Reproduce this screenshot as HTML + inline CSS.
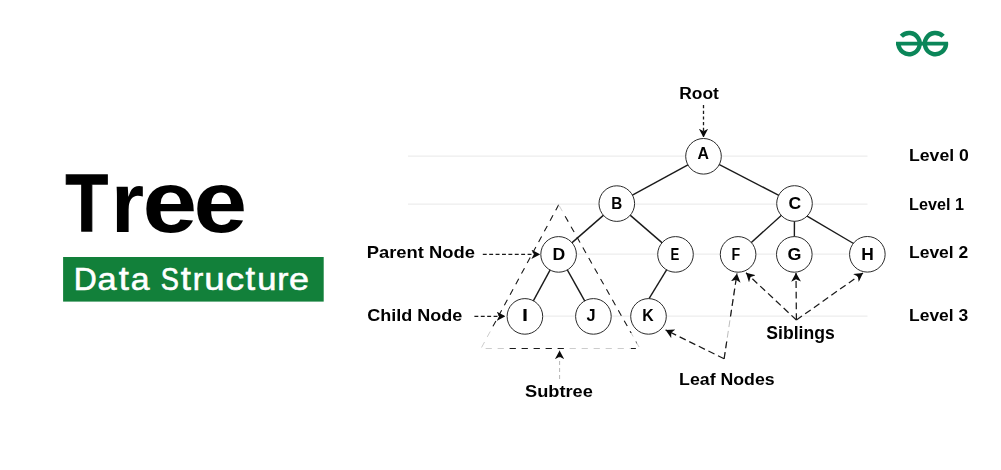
<!DOCTYPE html>
<html>
<head>
<meta charset="utf-8">
<title>Tree Data Structure</title>
<style>
  html, body { margin: 0; padding: 0; background: #ffffff; }
  body { width: 1001px; height: 470px; overflow: hidden; position: relative; font-family: "Liberation Sans", sans-serif; }
  svg { position: absolute; left: 0; top: 0; display: block; }
  text { font-family: "Liberation Sans", sans-serif; -webkit-font-smoothing: antialiased; }
  #title, #subtitle, #nodelabels, #labels { opacity: 0.999; }
  .edge { stroke: #1a1a1a; stroke-width: 1.4; fill: none; }
  .circ { stroke: #2a2a2a; stroke-width: 1; fill: #ffffff; }
  .lvl { stroke: #ededed; stroke-width: 1.2; }
  .dash { stroke: #1a1a1a; stroke-width: 1.3; fill: none; stroke-dasharray: 3.9 2.5; }
  .fine { stroke-dasharray: 3.2 2.5; }
  .tri { stroke: #1a1a1a; stroke-width: 1.05; fill: none; stroke-dasharray: 6.2 5.8; }
  .dash2 { stroke: #1a1a1a; stroke-width: 1.25; fill: none; stroke-dasharray: 6.8 3.9; }
  .dashl { stroke: #b5b5b5; stroke-width: 1; fill: none; stroke-dasharray: 4 3; }
</style>
</head>
<body>
<svg width="1001" height="470" viewBox="0 0 1001 470">
  <rect x="0" y="0" width="1001" height="470" fill="#ffffff"/>

  <!-- Title -->
  <g id="title">
    <text transform="translate(65.50 230.90) scale(0.8567 1)" font-size="81.31" font-weight="bold" fill="#000000" stroke="#000000" stroke-width="1.3">T</text>
    <text transform="translate(110.96 231.50) scale(0.9929 1)" font-size="85.77" font-weight="bold" fill="#000000">r</text>
    <text transform="translate(142.57 231.70) scale(1.1307 1)" font-size="86.88" font-weight="bold" fill="#000000">e</text>
    <text transform="translate(193.45 231.70) scale(1.1092 1)" font-size="86.88" font-weight="bold" fill="#000000">e</text>
  </g>
  <rect x="63.1" y="257.0" width="260.6" height="44.6" fill="#12803a"/>
  <g id="subtitle">
    <text transform="translate(73.77 289.70) scale(0.3190 0.3127)" font-size="100" font-weight="normal" fill="#ffffff" stroke="#ffffff" stroke-width="1.90">D</text>
    <text transform="translate(97.44 289.68) scale(0.3434 0.3215)" font-size="100" font-weight="normal" fill="#ffffff" stroke="#ffffff" stroke-width="1.80">a</text>
    <text transform="translate(118.75 289.75) scale(0.3647 0.3280)" font-size="100" font-weight="normal" fill="#ffffff" stroke="#ffffff" stroke-width="1.73">t</text>
    <text transform="translate(130.87 289.68) scale(0.3376 0.3215)" font-size="100" font-weight="normal" fill="#ffffff" stroke="#ffffff" stroke-width="1.82">a</text>
    <text transform="translate(160.78 289.69) scale(0.2713 0.3124)" font-size="100" font-weight="normal" fill="#ffffff" stroke="#ffffff" stroke-width="2.06">S</text>
    <text transform="translate(180.85 289.75) scale(0.3647 0.3280)" font-size="100" font-weight="normal" fill="#ffffff" stroke="#ffffff" stroke-width="1.73">t</text>
    <text transform="translate(192.77 289.70) scale(0.3160 0.3219)" font-size="100" font-weight="normal" fill="#ffffff" stroke="#ffffff" stroke-width="1.88">r</text>
    <text transform="translate(204.31 289.68) scale(0.3671 0.3219)" font-size="100" font-weight="normal" fill="#ffffff" stroke="#ffffff" stroke-width="1.74">u</text>
    <text transform="translate(225.62 289.68) scale(0.3721 0.3215)" font-size="100" font-weight="normal" fill="#ffffff" stroke="#ffffff" stroke-width="1.73">c</text>
    <text transform="translate(245.58 289.75) scale(0.3451 0.3280)" font-size="100" font-weight="normal" fill="#ffffff" stroke="#ffffff" stroke-width="1.78">t</text>
    <text transform="translate(257.35 289.68) scale(0.3459 0.3219)" font-size="100" font-weight="normal" fill="#ffffff" stroke="#ffffff" stroke-width="1.80">u</text>
    <text transform="translate(277.13 289.70) scale(0.3360 0.3219)" font-size="100" font-weight="normal" fill="#ffffff" stroke="#ffffff" stroke-width="1.82">r</text>
    <text transform="translate(289.07 289.68) scale(0.3596 0.3215)" font-size="100" font-weight="normal" fill="#ffffff" stroke="#ffffff" stroke-width="1.76">e</text>
  </g>

  <!-- Logo -->
  <g id="logo" fill="none" stroke="#0b8659">
    <path stroke-width="4.4" d="M 943.15 36.37 A 10.6 10.6 0 1 0 946.0 43.6"/>
    <path stroke-width="4.4" d="M 901.35 36.37 A 10.6 10.6 0 1 1 898.5 43.6"/>
    <path stroke-width="3.6" d="M 896 43.6 L 948.1 43.6"/>
  </g>

  <!-- Level lines -->
  <line class="lvl" x1="408" y1="156.2" x2="867.5" y2="156.2"/>
  <line class="lvl" x1="408" y1="204.2" x2="867.5" y2="204.2"/>
  <line class="lvl" x1="576" y1="254.2" x2="867.5" y2="254.2"/>
  <line class="lvl" x1="542" y1="316.2" x2="867.5" y2="316.2"/>

  <!-- Subtree triangle -->
  <defs>
    <clipPath id="triDark">
      <rect x="470" y="200" width="88.7" height="131"/>
      <rect x="558.7" y="213" width="95" height="120"/>
      <rect x="508" y="340" width="57" height="16"/>
      <rect x="631" y="340" width="5.5" height="16"/>
    </clipPath>
  </defs>
  <path class="tri" style="stroke:#c6c6c6;stroke-width:0.9" d="M 558.7 204.8 L 481 348.5 L 639.9 348.5 Z"/>
  <path class="tri" clip-path="url(#triDark)" d="M 558.7 204.8 L 481 348.5 L 639.9 348.5 Z"/>

  <!-- Edges -->
  <g class="edge">
    <line x1="703.5" y1="156.3" x2="616.8" y2="203.6"/>
    <line x1="703.5" y1="156.3" x2="794.5" y2="203.5"/>
    <line x1="616.8" y1="203.6" x2="558.6" y2="254.4"/>
    <line x1="616.8" y1="203.6" x2="675.5" y2="254.4"/>
    <line x1="794.5" y1="203.5" x2="738.1" y2="254.4"/>
    <line x1="794.5" y1="203.5" x2="794.3" y2="254.4"/>
    <line x1="805.4" y1="215.1" x2="854.4" y2="244.0"/>
    <line x1="558.6" y1="254.4" x2="524.9" y2="316.4"/>
    <line x1="558.6" y1="254.4" x2="593.4" y2="316.4"/>
    <line x1="667.5" y1="268.3" x2="647.5" y2="301.1"/>
  </g>
  <!-- Nodes -->
  <g class="circ">
    <circle cx="703.5" cy="156.3" r="17.8"/>
    <circle cx="616.8" cy="203.6" r="17.8"/>
    <circle cx="794.5" cy="203.5" r="17.8"/>
    <circle cx="558.6" cy="254.4" r="17.8"/>
    <circle cx="675.5" cy="254.4" r="17.8"/>
    <circle cx="738.1" cy="254.4" r="17.8"/>
    <circle cx="794.3" cy="254.4" r="17.8"/>
    <circle cx="867.35" cy="254.3" r="17.8"/>
    <circle cx="524.9" cy="316.4" r="17.8"/>
    <circle cx="593.4" cy="316.4" r="17.8"/>
    <circle cx="648.5" cy="316.4" r="17.8"/>
  </g>
  <g id="nodelabels">
    <text transform="translate(697.50 158.60) scale(0.9711 1)" font-size="16.29" font-weight="bold" fill="#000000">A</text>
    <text transform="translate(611.17 208.70) scale(0.9276 1)" font-size="16.44" font-weight="bold" fill="#000000">B</text>
    <text transform="translate(788.40 208.70) scale(1.0682 1)" font-size="16.44" font-weight="bold" fill="#000000">C</text>
    <text transform="translate(552.51 259.60) scale(1.0728 1)" font-size="16.44" font-weight="bold" fill="#000000">D</text>
    <text transform="translate(670.41 259.60) scale(0.8040 1)" font-size="16.44" font-weight="bold" fill="#000000">E</text>
    <text transform="translate(731.54 259.60) scale(0.8632 1)" font-size="16.44" font-weight="bold" fill="#000000">F</text>
    <text transform="translate(787.48 259.60) scale(1.0906 1)" font-size="16.44" font-weight="bold" fill="#000000">G</text>
    <text transform="translate(861.33 259.60) scale(1.0563 1)" font-size="16.44" font-weight="bold" fill="#000000">H</text>
    <text transform="translate(521.93 320.70) scale(1.3236 1)" font-size="16.44" font-weight="bold" fill="#000000">I</text>
    <text transform="translate(586.46 320.70) scale(0.9915 1)" font-size="16.44" font-weight="bold" fill="#000000">J</text>
    <text transform="translate(642.33 320.70) scale(0.9621 1)" font-size="16.44" font-weight="bold" fill="#000000">K</text>
  </g>
  <!-- Labels -->
  <g id="labels">
    <text transform="translate(679.22 98.90) scale(1.0419 1)" font-size="16.73" font-weight="bold" fill="#000000">Root</text>
    <text transform="translate(366.66 257.60) scale(1.0717 1)" font-size="17.16" font-weight="bold" fill="#000000">Parent Node</text>
    <text transform="translate(367.18 320.60) scale(1.0511 1)" font-size="17.16" font-weight="bold" fill="#000000">Child Node</text>
    <text transform="translate(525.05 396.90) scale(1.0529 1)" font-size="17.31" font-weight="bold" fill="#000000">Subtree</text>
    <text transform="translate(679.10 385.40) scale(1.0248 1)" font-size="17.31" font-weight="bold" fill="#000000">Leaf Nodes</text>
    <text transform="translate(766.37 339.00) scale(1.0070 1)" font-size="17.45" font-weight="bold" fill="#000000">Siblings</text>
    <text transform="translate(909.01 160.50) scale(1.0208 1)" font-size="17.31" font-weight="bold" fill="#000000">Level 0</text>
    <text transform="translate(909.11 210.00) scale(0.9345 1)" font-size="17.31" font-weight="bold" fill="#000000">Level 1</text>
    <text transform="translate(909.02 258.40) scale(1.0103 1)" font-size="17.31" font-weight="bold" fill="#000000">Level 2</text>
    <text transform="translate(909.02 320.80) scale(1.0087 1)" font-size="17.31" font-weight="bold" fill="#000000">Level 3</text>
  </g>

  <!-- Dashed arrows -->
  <defs>
    <marker id="ah" viewBox="0 0 10 10" refX="10" refY="5" markerWidth="8.8" markerHeight="9.4" preserveAspectRatio="none" markerUnits="userSpaceOnUse" orient="auto">
      <path d="M 10 5 L 0 0 L 2.8 5 L 0 10 Z" fill="#0a0a0a"/>
    </marker>
    <marker id="ah2" viewBox="0 0 10 10" refX="10" refY="5" markerWidth="8.7" markerHeight="9.8" preserveAspectRatio="none" markerUnits="userSpaceOnUse" orient="auto">
      <path d="M 10 5 L 0 0 L 2.8 5 L 0 10 Z" fill="#0a0a0a"/>
    </marker>
  </defs>
  <g class="dash" marker-end="url(#ah)">
    <line class="fine" x1="703.5" y1="105" x2="703.5" y2="137.5"/>
    <line x1="482.8" y1="254.3" x2="540.2" y2="254.3"/>
    <line x1="474.4" y1="316.3" x2="505.4" y2="316.3"/>
  </g>
  <clipPath id="leafDark">
    <rect x="715" y="338" width="30" height="24"/>
    <rect x="715" y="262" width="30" height="55"/>
  </clipPath>
  <line class="dash2" style="stroke:#b4b4b4;stroke-width:0.9" x1="724.1" y1="358.8" x2="737" y2="273.5"/>
  <g class="dash2" marker-end="url(#ah2)">
    <line x1="724.1" y1="358.8" x2="665.6" y2="329.9"/>
    <line x1="724.1" y1="358.8" x2="737" y2="273.5" clip-path="url(#leafDark)"/>
    <line x1="796.4" y1="320" x2="746" y2="272.8"/>
    <line x1="796.4" y1="320" x2="796" y2="272.9"/>
    <line x1="796.4" y1="320" x2="863" y2="272.9"/>
  </g>
  <line class="dashl" x1="559.6" y1="379" x2="559.6" y2="350.4" marker-end="url(#ah)"/>
</svg>
</body>
</html>
